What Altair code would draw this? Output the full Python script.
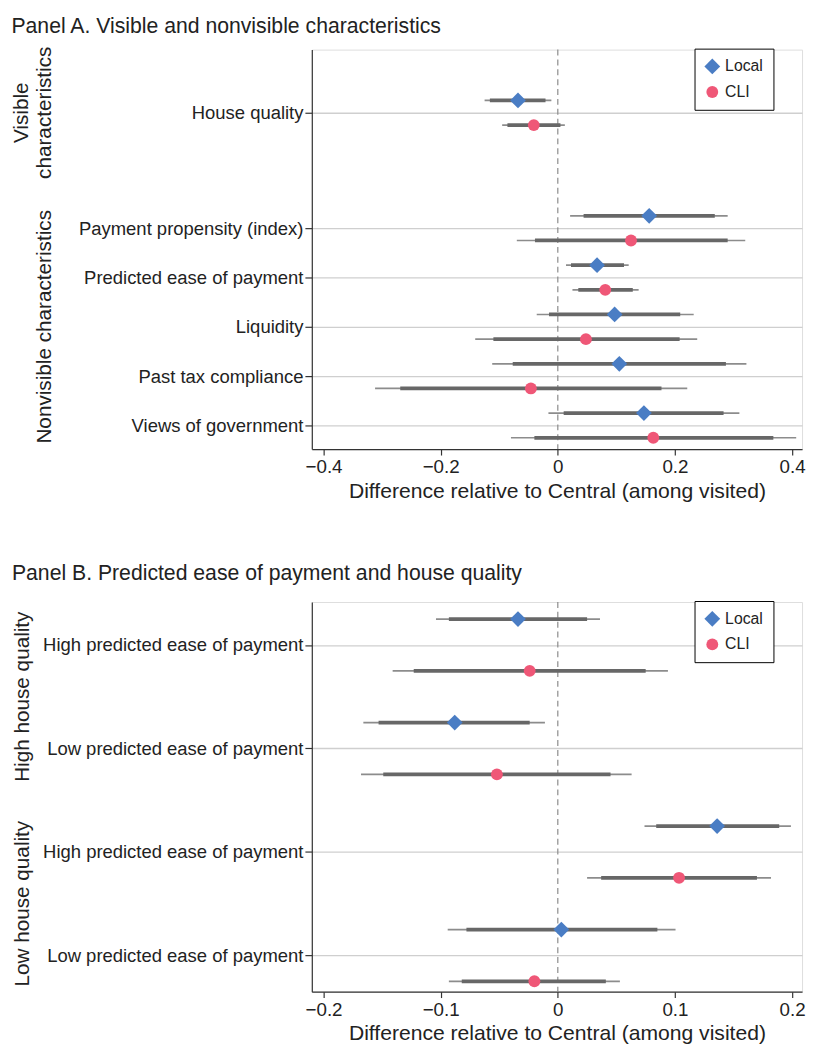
import altair as alt
import pandas as pd

FONT = "Liberation Sans"
BLUE = "#4A7DC4"
PINK = "#EF5777"
TXT = "#222222"

# ---------------- Panel A data ----------------
a_labels = ["House quality", "Payment propensity (index)", "Predicted ease of payment",
            "Liquidity", "Past tax compliance", "Views of government"]
a_local_est = [-0.068, 0.156, 0.067, 0.097, 0.105, 0.147]
a_local_lo90 = [-0.116, 0.044, 0.0225, -0.015, -0.077, 0.010]
a_local_hi90 = [-0.021, 0.268, 0.113, 0.209, 0.287, 0.283]
a_local_lo95 = [-0.125, 0.021, 0.014, -0.036, -0.112, -0.016]
a_local_hi95 = [-0.011, 0.290, 0.121, 0.232, 0.322, 0.310]
a_cli_est = [-0.041, 0.125, 0.081, 0.048, -0.046, 0.163]
a_cli_lo90 = [-0.086, -0.039, 0.035, -0.110, -0.269, -0.040]
a_cli_hi90 = [0.0045, 0.290, 0.128, 0.208, 0.177, 0.368]
a_cli_lo95 = [-0.095, -0.070, 0.025, -0.141, -0.312, -0.080]
a_cli_hi95 = [0.012, 0.320, 0.138, 0.238, 0.221, 0.407]
a_xticks = [-0.4, -0.2, 0, 0.2, 0.4]

# ---------------- Panel B data ----------------
b_labels = ["High predicted ease of payment", "Low predicted ease of payment",
            "High predicted ease of payment", "Low predicted ease of payment"]
b_local_est = [-0.034, -0.088, 0.136, 0.003]
b_local_lo90 = [-0.093, -0.153, 0.084, -0.078]
b_local_hi90 = [0.025, -0.024, 0.189, 0.085]
b_local_lo95 = [-0.104, -0.166, 0.074, -0.094]
b_local_hi95 = [0.036, -0.011, 0.199, 0.1005]
b_cli_est = [-0.024, -0.052, 0.1035, -0.020]
b_cli_lo90 = [-0.123, -0.149, 0.037, -0.082]
b_cli_hi90 = [0.075, 0.045, 0.170, 0.041]
b_cli_lo95 = [-0.141, -0.168, 0.025, -0.093]
b_cli_hi95 = [0.094, 0.063, 0.182, 0.053]
b_xticks = [-0.2, -0.1, 0, 0.1, 0.2]

SERIES = ["Local", "CLI"]
XTITLE = "Difference relative to Central (among visited)"

# row layout (in row units, top to bottom)
a_pos = [-2.34, 0, 1, 2, 3, 4]
b_pos = [0, 1, 2, 3]
OFF = 0.25


def build_df(labels, pos, local, cli):
    rows = []
    for s, vals in zip(SERIES, [local, cli]):
        est, lo90, hi90, lo95, hi95 = vals
        for i, lab in enumerate(labels):
            rows.append(dict(series=s, label=lab,
                             ypos=pos[i] + (-OFF if s == "Local" else OFF),
                             est=est[i], lo90=lo90[i], hi90=hi90[i],
                             lo95=lo95[i], hi95=hi95[i]))
    return pd.DataFrame(rows)


def label_expr(labels, pos):
    expr = "''"
    for lab, p in reversed(list(zip(labels, pos))):
        expr = f"abs(datum.value - ({p})) < 0.01 ? '{lab}' : {expr}"
    return expr


def panel(title, labels, pos, local, cli, xdomain, xticks, ydomain, height, groups, toff):
    df = build_df(labels, pos, local, cli)
    xs = alt.Scale(domain=xdomain, nice=False, zero=False)
    ys = alt.Scale(domain=ydomain, nice=False, zero=False, reverse=True)
    xaxis = alt.Axis(values=xticks, format="~g", title=XTITLE, grid=False,
                     labelFlush=False, labelOverlap=False,
                     labelFontSize=19, labelFont=FONT, labelColor=TXT, labelPadding=3,
                     titleFontSize=21.4, titleFont=FONT, titleFontWeight="normal",
                     titleColor=TXT, titlePadding=4,
                     tickSize=6, tickColor="#333", tickWidth=1.2,
                     domainColor="#333", domainWidth=1.2)
    yaxis = alt.Axis(values=pos, labelExpr=label_expr(labels, pos), title=None,
                     grid=True, gridColor="#cfcfcf", gridWidth=1.3,
                     labelFontSize=18.7, labelFont=FONT, labelColor=TXT, labelPadding=2,
                     labelLimit=400, tickSize=7, tickColor="#333", tickWidth=1.2,
                     domainColor="#333", domainWidth=1.2)

    base = alt.Chart(df)
    zero = alt.Chart(pd.DataFrame({"x": [0]})).mark_rule(
        color="#8a8a8a", strokeDash=[6, 4], strokeWidth=1.2
    ).encode(x=alt.X("x:Q", scale=xs, axis=xaxis))
    thin = base.mark_rule(color="#8c8c8c", strokeWidth=1.7).encode(
        x=alt.X("lo95:Q", scale=xs, axis=xaxis), x2="hi95:Q",
        y=alt.Y("ypos:Q", scale=ys, axis=yaxis))
    thick = base.mark_rule(color="#676767", strokeWidth=3.8).encode(
        x=alt.X("lo90:Q", scale=xs, axis=xaxis), x2="hi90:Q",
        y=alt.Y("ypos:Q", scale=ys, axis=yaxis))
    leg = alt.Legend(orient="none", legendX=388, legendY=-1, title=None,
                     strokeColor="black", fillColor="white", padding=10,
                     labelFont=FONT, labelFontSize=16, labelColor=TXT,
                     symbolSize=190, rowPadding=10, labelOffset=5,
                     symbolStrokeWidth=0, symbolOpacity=1)
    pts = base.mark_point(filled=True, opacity=1).encode(
        x=alt.X("est:Q", scale=xs, axis=xaxis),
        y=alt.Y("ypos:Q", scale=ys, axis=yaxis),
        color=alt.Color("series:N", scale=alt.Scale(domain=SERIES, range=[BLUE, PINK]), legend=leg),
        shape=alt.Shape("series:N", scale=alt.Scale(domain=SERIES, range=["diamond", "circle"]), legend=leg),
        size=alt.Size("series:N", scale=alt.Scale(domain=SERIES, range=[256, 144]), legend=None),
    )
    layers = [zero, thin, thick, pts]
    for text, yc, xpix in groups:
        g = alt.Chart(pd.DataFrame({"t": [text], "yc": [yc]})).mark_text(
            angle=270, align="center", baseline="middle", fontSize=21, font=FONT, color=TXT
        ).encode(text="t:N", x=alt.value(xpix),
                 y=alt.Y("yc:Q", scale=ys, axis=yaxis))
        layers.append(g)
    return alt.layer(*layers).properties(
        width=497, height=height,
        title=alt.TitleParams(title, anchor="start", frame="bounds", fontSize=21.5, font=FONT,
                              fontWeight="normal", color=TXT, offset=toff),
    ).resolve_scale(color="shared", shape="shared")


groups_a = [("Visible", a_pos[0], -293.5), ("characteristics", a_pos[0], -270),
            ("Nonvisible characteristics", sum(a_pos[1:]) / 5, -270)]
groups_b = [("High house quality", (b_pos[0] + b_pos[1]) / 2, -293),
            ("Low house quality", (b_pos[2] + b_pos[3]) / 2, -293)]

chart_a = panel("Panel A. Visible and nonvisible characteristics", a_labels, a_pos,
                (a_local_est, a_local_lo90, a_local_hi90, a_local_lo95, a_local_hi95),
                (a_cli_est, a_cli_lo90, a_cli_hi90, a_cli_lo95, a_cli_hi95),
                [-0.42, 0.417], a_xticks, [-3.62, 4.48], 405, groups_a, 9)
chart_b = panel("Panel B. Predicted ease of payment and house quality", b_labels, b_pos,
                (b_local_est, b_local_lo90, b_local_hi90, b_local_lo95, b_local_hi95),
                (b_cli_est, b_cli_lo90, b_cli_hi90, b_cli_lo95, b_cli_hi95),
                [-0.21, 0.2085], b_xticks, [-0.415, 3.35], 395, groups_b, 16)

chart = alt.vconcat(chart_a, chart_b, spacing=61).resolve_scale(
    color="independent", shape="independent", size="independent"
).resolve_legend(color="independent", shape="independent", size="independent").properties(
    padding={"left": 3, "top": 0, "right": 0, "bottom": 0}
).configure_view(stroke=None).configure(font=FONT)

chart.save("out.html", embed_options={"renderer": "svg", "actions": False})
